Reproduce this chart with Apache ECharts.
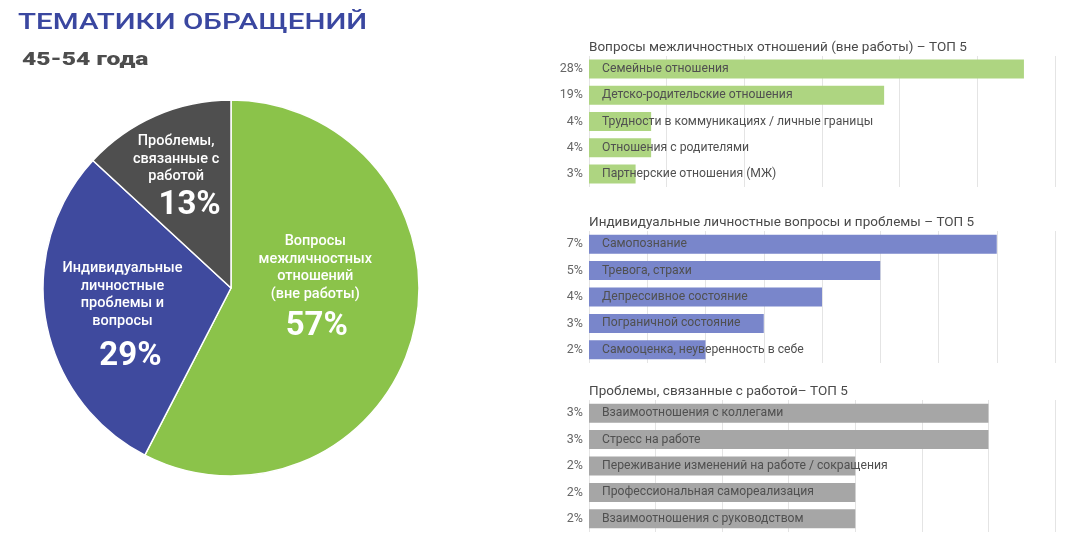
<!DOCTYPE html>
<html><head><meta charset="utf-8">
<script src="https://cdn.jsdelivr.net/npm/echarts@6/dist/echarts.min.js"></script>
<style>html,body{margin:0;padding:0;background:#fff}#c{width:1082px;height:554px}</style>
</head><body><div id="c"></div>
<script>
// Headings
const mainTitle = 'ТЕМАТИКИ ОБРАЩЕНИЙ';
const subTitle = '45-54 года';

// Pie
const pieNames = ['Вопросы\nмежличностных\nотношений\n(вне работы)', 'Индивидуальные\nличностные\nпроблемы и\nвопросы', 'Проблемы,\nсвязанные с\nработой'];
const pieValues = [57, 29, 13];
const pieColors = ['#8BC34A', '#3F4A9E', '#4F4F4F'];

// Bar chart 1
const t1 = 'Вопросы межличностных отношений (вне работы) – ТОП 5';
const cat1 = ['Семейные отношения', 'Детско-родительские отношения', 'Трудности в коммуникациях / личные границы', 'Отношения с родителями', 'Партнерские отношения (МЖ)'];
const val1 = [28, 19, 4, 4, 3];
const pct1 = ['28%', '19%', '4%', '4%', '3%'];

// Bar chart 2
const t2 = 'Индивидуальные личностные вопросы и проблемы – ТОП 5';
const cat2 = ['Самопознание', 'Тревога, страхи', 'Депрессивное состояние', 'Пограничной состояние', 'Самооценка, неуверенность в себе'];
const val2 = [7, 5, 4, 3, 2];
const pct2 = ['7%', '5%', '4%', '3%', '2%'];

// Bar chart 3
const t3 = 'Проблемы, связанные с работой– ТОП 5';
const cat3 = ['Взаимоотношения с коллегами', 'Стресс на работе', 'Переживание изменений на работе / сокращения', 'Профессиональная самореализация', 'Взаимоотношения с руководством'];
const val3 = [3, 3, 2, 2, 2];
const pct3 = ['3%', '3%', '2%', '2%', '2%'];

const axisMax = [30, 8, 3.5];
const axisInt = [5, 1, 0.5];
const barColors = ['#AED581', '#7986CB', '#A6A6A6'];

const chart = echarts.init(document.getElementById('c'));
const F = 'Roboto, "Noto Sans", sans-serif';
const tops = [56, 231, 400];
const heights = [131, 132, 132];
const cats = [cat1, cat2, cat3], vals = [val1, val2, val3], pcts = [pct1, pct2, pct3], titles = [t1, t2, t3];

const grids = [], xAxes = [], yAxes = [], series = [], titleArr = [];
for (let i = 0; i < 3; i++) {
  grids.push({left: 589, right: 27, top: tops[i], height: heights[i], containLabel: false});
  titleArr.push({text: titles[i], left: 584, top: tops[i] - 20, textStyle: {fontFamily: F, fontSize: 13.5, fontWeight: 400, color: '#4A4A4A'}});
  xAxes.push({type: 'value', gridIndex: i, min: 0, max: axisMax[i], interval: axisInt[i],
    axisLabel: {show: false}, axisTick: {show: false}, axisLine: {show: false},
    splitLine: {show: true, lineStyle: {color: '#E4E4E4', width: 1}}});
  const p = pcts[i];
  yAxes.push({type: 'category', gridIndex: i, data: cats[i], inverse: true,
    axisLine: {show: false}, axisTick: {show: false},
    axisLabel: {margin: 6, fontFamily: F, fontSize: 12.5, color: '#666', formatter: (v, idx) => p[idx]}});
  series.push({type: 'bar', xAxisIndex: i, yAxisIndex: i, data: vals[i], barWidth: 19,
    itemStyle: {color: barColors[i]}, silent: true,
    label: {show: true, position: 'insideLeft', distance: 13, formatter: '{b}', fontFamily: F, fontSize: 12.2, color: '#505050'}});
}

const shifts = [[-10, -19], [-13, 17], [-16, -20]];
const pctLH = [48, 54, 40];
const pctPadL = [3, 16, 27];
series.push({type: 'pie', center: [231, 288], radius: 188, startAngle: 90, clockwise: true,
  data: pieNames.map((n, i) => ({name: n, value: pieValues[i], itemStyle: {color: pieColors[i]},
    label: {rich: {p: {fontFamily: F, fontSize: 33, fontWeight: 700, color: '#fff', lineHeight: pctLH[i], padding: [0, 0, 0, pctPadL[i]]}}}})),
  itemStyle: {borderColor: '#fff', borderWidth: 1.5},
  label: {show: true, position: 'inside', formatter: (pp) => pp.name + '\n{p|' + pp.value + '%}',
    fontFamily: F, fontSize: 14.5, fontWeight: 500, color: '#fff', lineHeight: 17.5, align: 'center'},
  labelLine: {show: false},
  labelLayout: (params) => ({dx: shifts[params.dataIndex][0], dy: shifts[params.dataIndex][1]}),
  emphasis: {disabled: true}, silent: true, animation: false
});

chart.setOption({animation: false, title: titleArr, grid: grids, xAxis: xAxes, yAxis: yAxes, series: series,
  graphic: [
    {type: 'text', x: 18, y: 23, scaleX: 1.345, silent: true,
      style: {text: mainTitle, fontFamily: F, fontSize: 22, fontWeight: 500, fill: '#3A47A0', textAlign: 'left', textVerticalAlign: 'middle'}},
    {type: 'text', x: 22, y: 60, scaleX: 1.37, silent: true,
      style: {text: subTitle, fontFamily: F, fontSize: 18, fontWeight: 900, fill: '#4D4D4D', textAlign: 'left', textVerticalAlign: 'middle'}}
  ]});
</script></body></html>
